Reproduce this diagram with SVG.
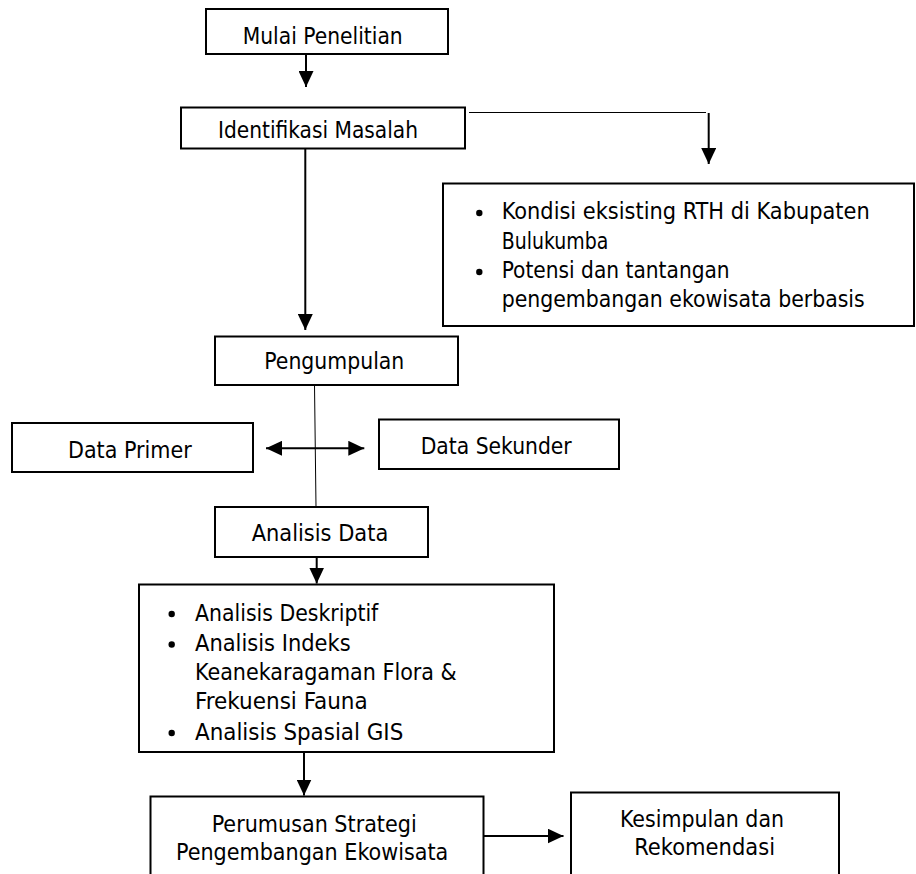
<svg xmlns="http://www.w3.org/2000/svg" width="916" height="874" viewBox="0 0 916 874">
  <style>
    .box { fill: #ffffff; stroke: #000000; stroke-width: 2; }
    .t { font-family: 'DejaVu Sans Condensed', 'DejaVu Sans', sans-serif; font-stretch: condensed; font-size: 23px; fill: #000000; }
    .ln { fill: none; stroke: #000000; stroke-width: 2; }
    .thin { fill: none; stroke: #000000; stroke-width: 1; }
    .bul { fill: #000000; }
  </style>
  <defs>
    <marker id="ah" markerUnits="userSpaceOnUse" markerWidth="16" markerHeight="15" viewBox="0 0 16 15" refX="16" refY="7.5" orient="auto-start-reverse">
      <path d="M0,0 L16,7.5 L0,15 Z" fill="#000000"/>
    </marker>
  </defs>
  <rect width="916" height="874" fill="#ffffff"/>

  <g id="connectors">
    <line class="ln" x1="306" y1="54" x2="306" y2="87" marker-end="url(#ah)"/>
    <line class="thin" x1="469" y1="112.5" x2="706" y2="112.5"/>
    <line class="ln" x1="708.7" y1="113" x2="708.7" y2="164" stroke-width="1.5" marker-end="url(#ah)"/>
    <line class="ln" x1="305.3" y1="149" x2="305.3" y2="330" stroke-width="2.5" marker-end="url(#ah)"/>
    <line class="thin" x1="314.5" y1="385" x2="316" y2="507"/>
    <line class="ln" x1="266" y1="448.3" x2="364.3" y2="448.3" marker-start="url(#ah)" marker-end="url(#ah)"/>
    <line class="ln" x1="316.7" y1="557" x2="316.7" y2="583.5" marker-end="url(#ah)"/>
    <line class="ln" x1="304" y1="752" x2="304" y2="795.5" marker-end="url(#ah)"/>
    <line class="ln" x1="484" y1="836" x2="563.5" y2="836" marker-end="url(#ah)"/>
  </g>

  <g id="mulai">
    <rect class="box" x="206" y="9" width="242" height="45"/>
    <text class="t" x="242.7" y="44" textLength="160" lengthAdjust="spacingAndGlyphs">Mulai Penelitian</text>
  </g>

  <g id="identifikasi">
    <rect class="box" x="181" y="107.5" width="284" height="41"/>
    <text class="t" x="218" y="138" textLength="200" lengthAdjust="spacingAndGlyphs">Identifikasi Masalah</text>
  </g>

  <g id="masalah">
    <rect class="box" x="443" y="183.5" width="471" height="142.5"/>
    <circle class="bul" cx="479.3" cy="213" r="3.2"/>
    <circle class="bul" cx="479.3" cy="272" r="3.2"/>
    <text class="t" x="501.7" y="219.3" textLength="368" lengthAdjust="spacingAndGlyphs">Kondisi eksisting RTH di Kabupaten</text>
    <text class="t" x="501.7" y="249" textLength="106.6" lengthAdjust="spacingAndGlyphs">Bulukumba</text>
    <text class="t" x="501.7" y="278.3" textLength="228" lengthAdjust="spacingAndGlyphs">Potensi dan tantangan</text>
    <text class="t" x="501.7" y="306.7" textLength="363" lengthAdjust="spacingAndGlyphs">pengembangan ekowisata berbasis</text>
  </g>

  <g id="pengumpulan">
    <rect class="box" x="215" y="336.5" width="243" height="48.5"/>
    <text class="t" x="264.3" y="369" textLength="140" lengthAdjust="spacingAndGlyphs">Pengumpulan</text>
  </g>

  <g id="data-primer">
    <rect class="box" x="12" y="423" width="241" height="49"/>
    <text class="t" x="68" y="457.7" textLength="123.7" lengthAdjust="spacingAndGlyphs">Data Primer</text>
  </g>

  <g id="data-sekunder">
    <rect class="box" x="379" y="419.5" width="240" height="49.5"/>
    <text class="t" x="420.7" y="454" textLength="151" lengthAdjust="spacingAndGlyphs">Data Sekunder</text>
  </g>

  <g id="analisis-data">
    <rect class="box" x="215" y="507" width="213" height="50"/>
    <text class="t" x="251.7" y="540.7" textLength="136.6" lengthAdjust="spacingAndGlyphs">Analisis Data</text>
  </g>

  <g id="metode-analisis">
    <rect class="box" x="139" y="584.5" width="415" height="167.5"/>
    <circle class="bul" cx="171.7" cy="614" r="3.2"/>
    <circle class="bul" cx="171.7" cy="644.5" r="3.2"/>
    <circle class="bul" cx="171.7" cy="733" r="3.2"/>
    <text class="t" x="195" y="620.5" textLength="183.3" lengthAdjust="spacingAndGlyphs">Analisis Deskriptif</text>
    <text class="t" x="195" y="651" textLength="155.7" lengthAdjust="spacingAndGlyphs">Analisis Indeks</text>
    <text class="t" x="195" y="680" textLength="261.7" lengthAdjust="spacingAndGlyphs">Keanekaragaman Flora &amp;</text>
    <text class="t" x="195" y="708.5" textLength="172.7" lengthAdjust="spacingAndGlyphs">Frekuensi Fauna</text>
    <text class="t" x="195" y="739.5" textLength="208.3" lengthAdjust="spacingAndGlyphs">Analisis Spasial GIS</text>
  </g>

  <g id="perumusan">
    <rect class="box" x="150.5" y="796.5" width="333" height="100"/>
    <text class="t" x="211.7" y="831.7" textLength="205" lengthAdjust="spacingAndGlyphs">Perumusan Strategi</text>
    <text class="t" x="176" y="860" textLength="272.3" lengthAdjust="spacingAndGlyphs">Pengembangan Ekowisata</text>
  </g>

  <g id="kesimpulan">
    <rect class="box" x="571" y="792.5" width="268" height="100"/>
    <text class="t" x="620" y="826.7" textLength="164" lengthAdjust="spacingAndGlyphs">Kesimpulan dan</text>
    <text class="t" x="634.3" y="855" textLength="140.7" lengthAdjust="spacingAndGlyphs">Rekomendasi</text>
  </g>
</svg>
